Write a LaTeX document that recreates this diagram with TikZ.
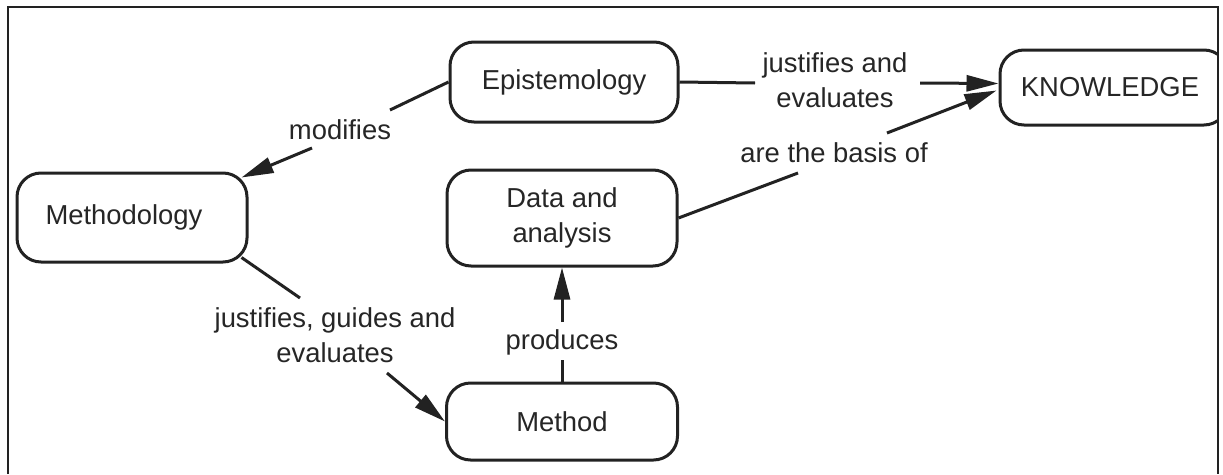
\documentclass[tikz,border=0pt]{standalone}
\usepackage{fontspec}
\setmainfont{Liberation Sans}
\usetikzlibrary{arrows.meta,calc}
\definecolor{ink}{HTML}{222222}
\definecolor{txt}{HTML}{262626}
\begin{document}
\begin{tikzpicture}[x=1pt,y=-1pt,
  box/.style={draw=ink,line width=3pt,rounded corners=24pt,text=txt,
    font=\fontsize{27.4}{35}\selectfont,inner sep=0pt,align=center},
  lbl/.style={text=txt,font=\fontsize{27.4}{35}\selectfont,inner sep=0pt,align=center},
  link/.style={draw=ink,line width=3pt},
  arr/.style={link,-{Triangle[length=32pt,width=16pt]}}]

\useasboundingbox (0,0) rectangle (1223,474);
\fill[white] (0,0) rectangle (1223,474);

\begin{scope}
  \clip (8,7) rectangle (1218,474);

  % concept boxes
  \node[box,minimum width=228pt,minimum height=80pt] (epi) at (564,82) {Epistemology};
  \node[box,minimum width=228pt,minimum height=75pt] (know) at (1114,87.5) {KNOWLEDGE\hspace*{8pt}};
  \node[box,minimum width=230pt,minimum height=89pt] (meth) at (132,217.5) {Methodology\hspace*{16pt}};
  \node[box,minimum width=230pt,minimum height=96pt] (data) at (562,218) {Data and\\analysis};
  \node[box,minimum width=231pt,minimum height=77pt] (method) at (562,421.5) {Method};

  % relation labels
  \node[lbl] (lmod) at (340,130) {modifies};
  \node[lbl] (lje) at (835,80) {justifies and\\evaluates};
  \node[lbl] (lbas) at (834,153) {are the basis of};
  \node[lbl] (ljg) at (335,335) {justifies, guides and\\evaluates};
  \node[lbl] (lpro) at (562,342) {produces};

  % connector break points around the labels
  \coordinate (m1) at (390,110);  \coordinate (m2) at (312,148);
  \coordinate (j1) at (755,83);   \coordinate (j2) at (920,83);
  \coordinate (b1) at (798,173);  \coordinate (b2) at (887,133);
  \coordinate (g1) at (300,298);  \coordinate (g2) at (387,373);
  \coordinate (p1) at (562,360);  \coordinate (p2) at (562,322);

  % Epistemology modifies Methodology
  \draw[link] (epi.west) -- (m1);
  \draw[arr] (m2) -- ($(meth.north east)+(-7,6)$);
  % Epistemology justifies and evaluates Knowledge
  \draw[link] (epi.east) -- (j1);
  \draw[arr] (j2) -- ($(know.west)+(0,-4)$);
  % Data and analysis are the basis of Knowledge
  \draw[link] (data.east) -- (b1);
  \draw[arr] (b2) -- ($(know.west)+(-2,3)$);
  % Methodology justifies, guides and evaluates Method
  \draw[link] ($(meth.south east)+(-7,-6)$) -- (g1);
  \draw[arr] (g2) -- (method.west);
  % Method produces Data and analysis
  \draw[link] (method.north) -- (p1);
  \draw[arr] (p2) -- (data.south);
\end{scope}

% outer frame (open at the bottom)
\draw[ink,line width=2pt] (8,474) -- (8,7) -- (1218,7) -- (1218,474);
\end{tikzpicture}
\end{document}
